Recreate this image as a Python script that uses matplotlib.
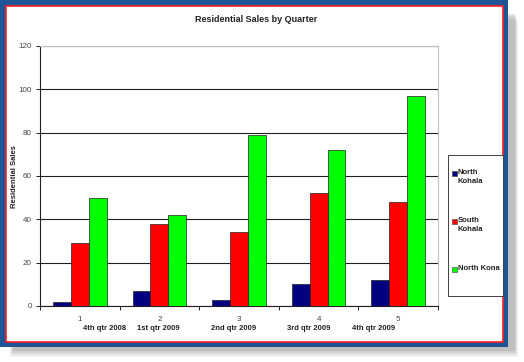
import numpy as np
import matplotlib.pyplot as plt
from matplotlib.patches import Rectangle

plt.rcParams["font.family"] = ["Liberation Sans", "DejaVu Sans"]

quarters = ["1", "2", "3", "4", "5"]
quarter_names = ["4th qtr 2008", "1st qtr 2009", "2nd qtr 2009", "3rd qtr 2009", "4th qtr 2009"]
north_kohala = [2, 7, 3, 10, 12]
south_kohala = [29, 38, 34, 52, 48]
north_kona = [50, 42, 79, 72, 97]
series_names = ["North\nKohala", "South\nKohala", "North Kona"]
series_colors = ["#000080", "#ff0000", "#00ff00"]

W, H = 524, 362


def fx(px):
    return px / W


def fy(py):
    return 1 - py / H


fig = plt.figure(figsize=(W / 100, H / 100), dpi=100)
fig.patch.set_facecolor("white")

# drop shadow, blue frame, red line, white page
for i, a in enumerate([0.12, 0.16, 0.2, 0.25]):
    d = 10 - i * 2
    fig.add_artist(Rectangle((fx(10 + i), fy(347 + d)), fx(498 + d), fy(0) - fy(337),
                             transform=fig.transFigure, facecolor="#909090",
                             alpha=a, edgecolor="none", zorder=-10))
fig.add_artist(Rectangle((0, fy(347)), fx(508), 1 - fy(347) + 0.01, transform=fig.transFigure,
                         facecolor="#1f5597", edgecolor="none", zorder=-9))
fig.add_artist(Rectangle((fx(5.5), fy(341.5)), fx(497), fy(5.5) - fy(341.5), transform=fig.transFigure,
                         facecolor="white", edgecolor="#ff2020", linewidth=1.2, zorder=-8))

ax = fig.add_axes([fx(40), fy(306), fx(438) - fx(40), fy(46) - fy(306)])
x = np.arange(len(quarters))
bw = 0.225
for i, (vals, c) in enumerate(zip([north_kohala, south_kohala, north_kona], series_colors)):
    ax.bar(x + (i - 1) * bw, vals, bw, color=c, edgecolor="#202020", linewidth=0.5, zorder=3)

ax.set_xlim(-0.5, 4.5)
ax.set_ylim(0, 120)
ax.set_yticks(range(0, 121, 20))
ax.set_yticklabels([str(v) for v in range(0, 121, 20)], fontsize=5.8, color="#444444")
ax.yaxis.grid(True, color="#202020", linewidth=0.8, zorder=0)
ax.set_xticks(x)
ax.set_xticklabels(quarters, fontsize=5.8, color="#444444")
ax.set_xticks(np.arange(-0.5, 4.6, 1), minor=True)
ax.tick_params(axis="x", which="major", length=0, pad=7)
ax.tick_params(axis="x", which="minor", length=3, width=0.6)
ax.tick_params(axis="y", length=3, width=0.6, pad=3)
for s in ["top", "right"]:
    ax.spines[s].set_color("#c0c0c0")
for s in ["left", "bottom"]:
    ax.spines[s].set_color("#202020")
    ax.spines[s].set_linewidth(0.8)

# quarter names under the numbers
name_x = [0.04, 0.72, 1.65, 2.60, 3.42]
for xs, name in zip(name_x, quarter_names):
    ax.text(xs, -0.088, name, transform=ax.get_xaxis_transform(), fontsize=5.5,
            fontweight="bold", color="#222222", ha="left", va="center")

fig.text(fx(256), fy(19), "Residential Sales by Quarter", fontsize=6.5, fontweight="bold",
         color="#222222", ha="center", va="center")
fig.text(fx(15), fy(177), "Residential Sales", fontsize=5.5, fontweight="bold",
         color="#222222", rotation=90, ha="center", va="center")

# legend box
fig.add_artist(Rectangle((fx(448), fy(296)), fx(503) - fx(448), fy(155) - fy(296),
                         transform=fig.transFigure, facecolor="white",
                         edgecolor="#404040", linewidth=0.7))
for name, c, py in zip(series_names, series_colors, [173, 221, 269]):
    fig.add_artist(Rectangle((fx(452), fy(py + 2.5)), fx(4.5), fy(0) - fy(4.5),
                             transform=fig.transFigure, facecolor=c,
                             edgecolor="#404040", linewidth=0.4))
    fig.text(fx(458), fy(py - 4.5), name, fontsize=5.5, fontweight="bold", color="#222222",
             ha="left", va="top", linespacing=1.45)

fig.savefig("out.png", dpi=100)
